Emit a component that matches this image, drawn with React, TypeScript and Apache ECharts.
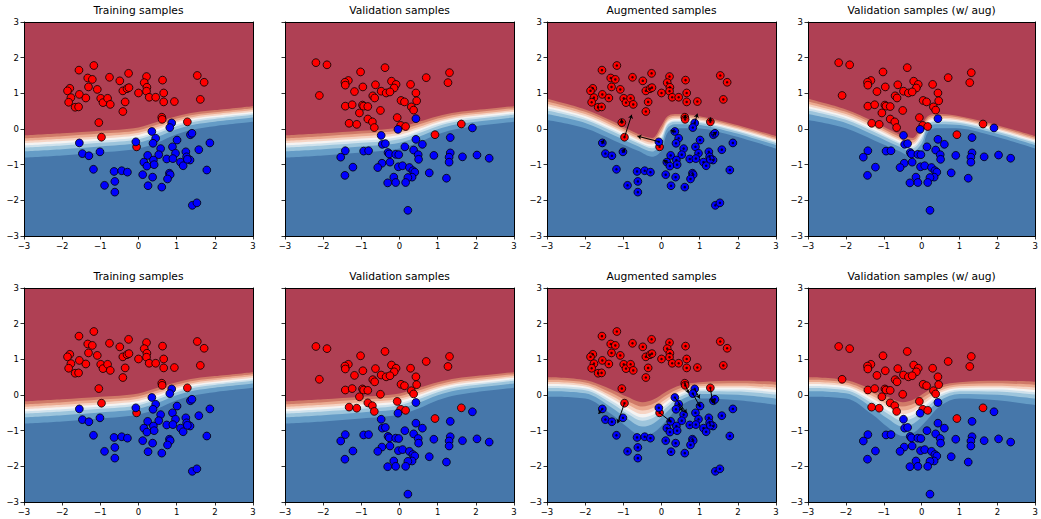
import React, { useEffect, useRef } from "react";
import * as echarts from "echarts";

const TITLES = ["Training samples", "Validation samples", "Augmented samples", "Validation samples (w/ aug)"];

const TRAIN_RED: number[][] = [
  [-1.17, 1.78], [-1.56, 1.65], [-1.33, 1.43], [-1.21, 1.39], [-0.76, 1.45], [-0.26, 1.56], [-0.49, 1.35],
  [0.21, 1.47], [0.15, 1.30], [0.22, 1.17], [0.21, 1.06], [0.63, 1.37], [1.54, 1.50], [1.72, 1.31],
  [-1.80, 1.14], [-1.86, 1.07], [-1.31, 1.18], [-1.08, 1.11], [-1.55, 0.97], [-1.77, 0.88], [-1.38, 0.87],
  [-1.83, 0.75], [-0.99, 0.86], [-0.93, 0.74], [-0.81, 0.86], [-0.74, 0.69], [-0.41, 1.07], [-0.30, 1.13],
  [-0.25, 1.16], [0.00, 1.01], [0.28, 0.89], [0.45, 0.89], [0.66, 1.01], [0.66, 0.76], [0.94, 0.77],
  [-0.35, 0.76], [1.62, 0.83], [-1.66, 0.61], [-1.57, 0.62], [-0.41, 0.49], [0.61, 0.33], [0.62, 0.27],
  [-1.04, 0.18], [1.28, 0.20], [-0.97, -0.23], [-0.05, -0.50],
];
const TRAIN_BLUE: number[][] = [
  [0.87, 0.17], [0.82, 0.04], [0.35, -0.07], [0.45, -0.26], [1.36, -0.16], [1.40, -0.12], [1.01, -0.31],
  [-1.55, -0.39], [-0.07, -0.36], [0.38, -0.40], [1.87, -0.39], [0.58, -0.55], [0.89, -0.50], [-1.47, -0.69],
  [-1.30, -0.75], [-1.01, -0.64], [0.24, -0.74], [0.53, -0.72], [0.97, -0.68], [1.24, -0.64], [1.58, -0.58],
  [0.14, -0.93], [0.39, -0.87], [0.22, -1.04], [0.41, -1.00], [0.74, -0.84], [0.90, -0.83], [1.10, -0.93],
  [1.17, -1.03], [1.26, -0.78], [1.35, -0.87], [1.28, -0.85], [-1.18, -1.13], [-0.64, -1.19], [-0.44, -1.17],
  [-0.29, -1.21], [0.11, -1.28], [0.37, -1.35], [0.81, -1.24], [0.83, -1.28], [0.76, -1.40], [1.79, -1.15],
  [-0.89, -1.58], [-0.62, -1.47], [0.25, -1.59], [0.61, -1.63], [-0.62, -1.77], [1.41, -2.14], [1.53, -2.07],
];
const VAL_RED: number[][] = [
  [-2.19, 1.86], [-1.90, 1.80], [-0.38, 1.72], [-1.02, 1.60], [1.31, 1.58], [0.70, 1.44], [-1.34, 1.36],
  [-1.43, 1.31], [-1.42, 1.23], [-0.21, 1.34], [-0.63, 1.24], [0.29, 1.25], [1.27, 1.30], [-0.09, 1.25],
  [-0.14, 1.15], [-0.96, 1.18], [-1.18, 1.05], [-0.48, 1.06], [-0.35, 1.01], [-0.25, 1.04], [0.43, 1.01],
  [-2.10, 0.94], [-0.70, 0.93], [-0.65, 0.87], [0.04, 0.80], [0.13, 0.76], [0.45, 0.79], [-1.42, 0.64],
  [-1.24, 0.68], [-0.97, 0.67], [-0.94, 0.64], [-0.83, 0.63], [-0.50, 0.52], [0.31, 0.62], [0.37, 0.53],
  [-1.05, 0.45], [-0.83, 0.28], [-0.71, 0.20], [-0.06, 0.32], [-1.32, 0.16], [-1.12, 0.13], [-0.66, 0.04],
  [0.03, 0.10], [0.16, 0.07], [1.62, 0.14], [0.93, -0.16],
];
const VAL_BLUE: number[][] = [
  [0.43, 0.29], [-0.04, -0.01], [1.91, 0.03], [-0.48, -0.18], [1.33, -0.24], [0.43, -0.29], [0.60, -0.43],
  [-0.45, -0.43], [-0.37, -0.41], [0.14, -0.50], [-1.42, -0.61], [-0.94, -0.62], [-0.81, -0.61], [0.37, -0.59],
  [-1.54, -0.79], [-0.30, -0.66], [-0.27, -0.70], [-0.10, -0.71], [-0.02, -0.72], [0.49, -0.72], [0.50, -0.85],
  [0.90, -0.74], [1.33, -0.67], [1.30, -0.79], [1.30, -0.93], [1.65, -0.78], [2.03, -0.73], [2.35, -0.82],
  [-1.22, -1.07], [-0.46, -0.96], [-0.57, -1.08], [-0.25, -0.93], [-0.03, -1.06], [0.08, -1.03], [0.26, -1.08],
  [0.35, -1.17], [0.40, -1.21], [0.33, -1.35], [0.22, -1.36], [0.78, -1.23], [-1.43, -1.30], [-0.15, -1.35],
  [-0.10, -1.50], [-0.31, -1.51], [0.16, -1.50], [1.23, -1.38], [0.22, -2.28],
];
// vertical offset of the validation set in each row
const VAL_SHIFT = [0, -0.5];

// decision-function contour bands: x positions, upper edge (red starts), lower edge (dark blue starts)
const BASE_X = [-3, -2, -1, -0.5, 0, 0.5, 1, 1.5, 2, 3];
const BASE_UPPER = [-0.18, -0.12, -0.05, -0.02, 0.04, 0.2, 0.36, 0.47, 0.53, 0.64];
const BASE_LOWER = [-0.8, -0.74, -0.66, -0.62, -0.55, -0.38, -0.15, 0.0, 0.08, 0.2];

const AUG1_X = [-3, -2, -1.25, -0.6, -0.25, 0, 0.15, 0.35, 0.9, 1.8, 3];
const AUG1_UPPER = [0.85, 0.55, 0.2, -0.15, -0.25, 0.1, 0.35, 0.42, 0.38, 0.16, -0.2];
const AUG1_LOWER = [0.25, 0.02, -0.32, -0.62, -0.78, -0.6, -0.12, 0.02, 0.02, -0.17, -0.55];

const AUG2_X = [-3, -2, -1.3, -0.9, -0.5, -0.2, 0.1, 0.5, 1, 2, 3];
const AUG2_UPPER = [0.5, 0.42, 0.15, -0.05, -0.2, -0.12, 0.08, 0.27, 0.36, 0.4, 0.37];
const AUG2_LOWER = [-0.05, -0.1, -0.55, -0.9, -1.15, -1.05, -0.75, -0.3, -0.1, -0.15, -0.28];

// augmentation arrows [x0, y0, x1, y1]
const ARROWS1: number[][] = [
  [-0.97, -0.23, -0.78, 0.4], [-0.05, -0.36, -0.63, -0.2], [0.87, 0.17, 0.94, 0.43], [1.28, 0.2, 1.28, 0.32],
  [0.35, -0.07, 0.24, -0.04], [-1.04, 0.18, -1.05, 0.28], [-1.55, -0.39, -1.5, -0.3], [-1.01, -0.64, -0.95, -0.55],
  [0.14, -0.93, 0.05, -0.87], [0.62, 0.3, 0.62, 0.4], [1.36, -0.16, 1.45, -0.08],
];
const ARROWS2: number[][] = [
  [-0.97, -0.23, -1.15, -0.79], [-1.55, -0.39, -1.65, -0.53], [-0.05, -0.5, 0.25, -0.75], [0.35, -0.07, 0.66, -0.51],
  [0.62, 0.3, 0.71, 0.05], [0.82, 0.04, 1.01, -0.33], [0.87, 0.17, 1.0, -0.1], [1.28, 0.2, 1.34, -0.21],
  [1.36, -0.16, 1.4, -0.25], [0.45, -0.26, 0.55, -0.45],
];

const LEVELS = [0, 0.28, 0.45, 0.55, 0.65, 0.75, 0.87, 1.0];
const BAND_COLORS = ["#659CC6", "#9DC5DC", "#D0E2EC", "#F5F3F2", "#F6D4C4", "#EBAA90", "#D07A68", "#AF4054"];
const BASE_BLUE = "#4677AA";

const LEFTS = [24, 285, 547, 808];
const TOPS = [22, 288];
const W = 229;
const H = 214;
const FONT = "DejaVu Sans";

function fmt(v: number) {
  return String(v).replace("-", "\u2212");
}

export default function App() {
  const ref = useRef<HTMLDivElement>(null);
  useEffect(() => {
    document.body.style.margin = "0";
    const chart = echarts.init(ref.current!, null, { renderer: "svg" });
    const grid: any[] = [];
    const xAxis: any[] = [];
    const yAxis: any[] = [];
    const series: any[] = [];
    const line = { show: true, onZero: false, lineStyle: { color: "#000", width: 1 } };
    const tick = { show: true, inside: false, length: 3.5, lineStyle: { color: "#000", width: 0.8 } };
    const label = { show: true, fontSize: 8.5, color: "#000", fontFamily: FONT, formatter: fmt };

    for (let r = 0; r < 2; r++) {
      for (let c = 0; c < 4; c++) {
        const g = r * 4 + c;
        grid.push({ left: LEFTS[c], top: TOPS[r], width: W, height: H, show: true, backgroundColor: BASE_BLUE, borderWidth: 0 });
        const common = { gridIndex: g, type: "value", min: -3, max: 3, interval: 1, splitLine: { show: false }, z: 5 };
        xAxis.push({ ...common, position: "bottom", axisLine: line, axisTick: tick, axisLabel: { ...label, margin: 5 } });
        xAxis.push({
          ...common, position: "top", axisLine: line, axisTick: { show: false }, axisLabel: { show: false },
          name: TITLES[c], nameLocation: "middle", nameGap: 6,
          nameTextStyle: { fontSize: 10.7, color: "#000", fontFamily: FONT },
        });
        yAxis.push({ ...common, position: "left", axisLine: line, axisTick: tick, axisLabel: { ...label, show: c !== 1, margin: 5 } });
        yAxis.push({ ...common, position: "right", axisLine: line, axisTick: { show: false }, axisLabel: { show: false } });

        const xi = 2 * g;
        const yi = 2 * g;
        let cx = BASE_X, cu = BASE_UPPER, cl = BASE_LOWER;
        if (c >= 2) {
          cx = r === 0 ? AUG1_X : AUG2_X;
          cu = r === 0 ? AUG1_UPPER : AUG2_UPPER;
          cl = r === 0 ? AUG1_LOWER : AUG2_LOWER;
        }
        LEVELS.forEach((t, k) => {
          series.push({
            type: "line", xAxisIndex: xi, yAxisIndex: yi, silent: true,
            data: cx.map((x, i) => [x, cl[i] + t * (cu[i] - cl[i])]),
            smooth: 0.35, symbol: "none", showSymbol: false,
            lineStyle: { width: 0, opacity: 0 },
            areaStyle: { origin: "end", color: BAND_COLORS[k], opacity: 1 },
            z: 1,
          });
        });

        const useVal = c === 1 || c === 3;
        const shift = VAL_SHIFT[r];
        const red = useVal ? VAL_RED.map((p) => [p[0], p[1] + shift]) : TRAIN_RED;
        const blue = useVal ? VAL_BLUE.map((p) => [p[0], p[1] + shift]) : TRAIN_BLUE;
        const pt = (data: number[][], color: string) => ({
          type: "scatter", xAxisIndex: xi, yAxisIndex: yi, data, symbolSize: 7.8, silent: true,
          itemStyle: { color, borderColor: "#000", borderWidth: 0.8, opacity: 1 }, z: 3,
        });
        series.push(pt(red, "#ff0000"));
        series.push(pt(blue, "#0000ff"));
        if (c === 2) {
          series.push({
            type: "scatter", xAxisIndex: xi, yAxisIndex: yi, data: [...TRAIN_RED, ...TRAIN_BLUE], symbolSize: 2.5,
            silent: true, itemStyle: { color: "#000" }, z: 4,
          });
          const arrows = r === 0 ? ARROWS1 : ARROWS2;
          series.push({
            type: "lines", coordinateSystem: "cartesian2d", xAxisIndex: xi, yAxisIndex: yi, silent: true,
            data: arrows.map((a) => ({ coords: [[a[0], a[1]], [a[2], a[3]]] })),
            symbol: ["none", "arrow"], symbolSize: 4,
            lineStyle: { color: "#000", width: 1, opacity: 1 }, z: 4,
          });
        }
      }
    }

    chart.setOption({ animation: false, grid, xAxis, yAxis, series });
    return () => chart.dispose();
  }, []);
  return <div ref={ref} style={{ width: 1041, height: 519 }} />;
}
